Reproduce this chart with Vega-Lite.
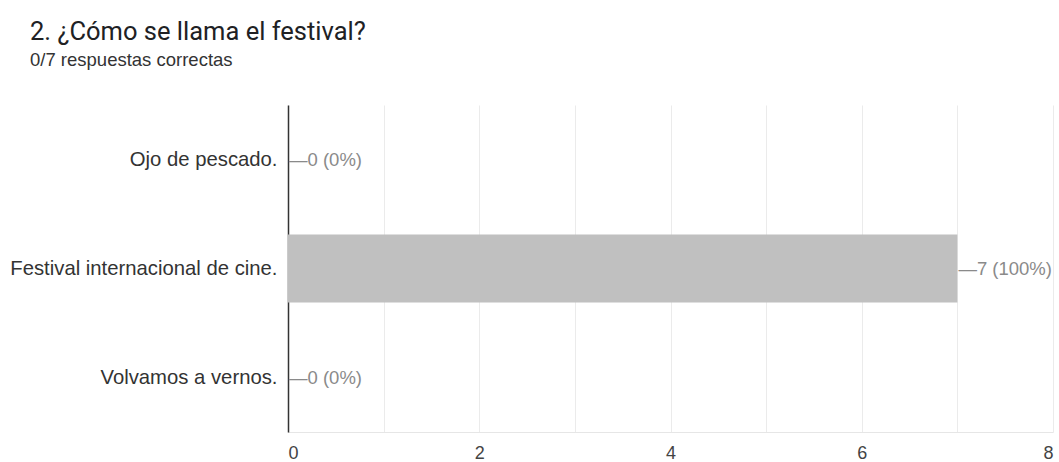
{
  "$schema": "https://vega.github.io/schema/vega-lite/v6.json",
  "autosize": "none",
  "width": 765,
  "height": 327,
  "padding": {"left": 288, "top": 105, "right": 6, "bottom": 30},
  "background": "white",
  "title": {
    "text": "2. ¿Cómo se llama el festival?",
    "subtitle": "0/7 respuestas correctas",
    "anchor": "start",
    "frame": "group",
    "dx": -258,
    "offset": 36,
    "font": "Roboto",
    "fontSize": 25.5,
    "fontWeight": "normal",
    "color": "#202124",
    "subtitleFont": "Liberation Sans",
    "subtitleFontSize": 18.5,
    "subtitleColor": "#333333",
    "subtitlePadding": 5
  },
  "data": {
    "values": [
      {"opcion": "Ojo de pescado.", "n": 0, "etiqueta": "—0 (0%)"},
      {"opcion": "Festival internacional de cine.", "n": 7, "etiqueta": "—7 (100%)"},
      {"opcion": "Volvamos a vernos.", "n": 0, "etiqueta": "—0 (0%)"}
    ]
  },
  "encoding": {
    "y": {
      "field": "opcion",
      "type": "nominal",
      "sort": null,
      "scale": {"paddingInner": 0.376, "paddingOuter": 0.188},
      "axis": {
        "title": null,
        "domain": true,
        "domainColor": "#333333",
        "domainWidth": 1.5,
        "ticks": false,
        "labelPadding": 11,
        "labelFont": "Liberation Sans",
        "labelFontSize": 20.3,
        "labelColor": "#333333",
        "labelLimit": 300
      }
    },
    "x": {
      "field": "n",
      "type": "quantitative",
      "scale": {"domain": [0, 8], "nice": false},
      "axis": {
        "title": null,
        "values": [0, 1, 2, 3, 4, 5, 6, 7, 8],
        "labelExpr": "datum.value % 2 == 0 ? datum.label : ''",
        "grid": true,
        "gridColor": "#ebebeb",
        "domainColor": "#e6e6e6",
        "ticks": false,
        "labelPadding": 12,
        "labelFont": "Liberation Sans",
        "labelFontSize": 18,
        "labelColor": "#444444"
      }
    }
  },
  "layer": [
    {"mark": {"type": "bar", "color": "#c0c0c0"}},
    {
      "mark": {"type": "text", "align": "left", "dx": 1, "font": "Liberation Sans", "fontSize": 18.5, "color": "#8a8a8a"},
      "encoding": {"text": {"field": "etiqueta"}}
    }
  ],
  "config": {"view": {"stroke": null}}
}
